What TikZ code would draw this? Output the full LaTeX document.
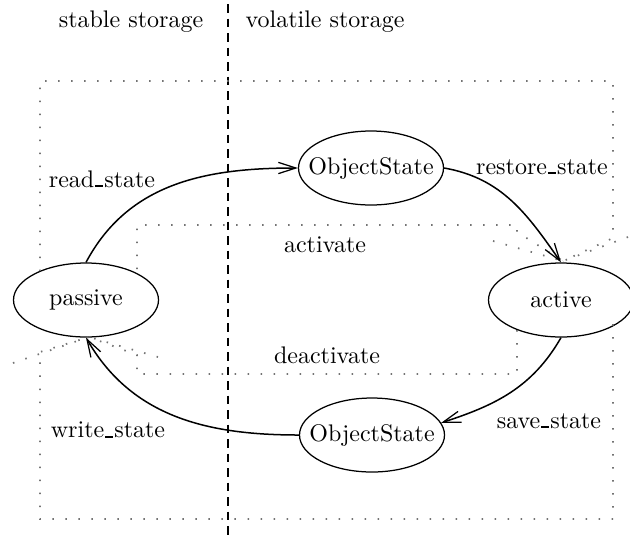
\documentclass[tikz,border=0pt]{standalone}
\usetikzlibrary{shapes.geometric,arrows.meta}
% short, heavy underscore as used in the method names
\newcommand{\uscore}{\kern0.3pt\rule{3.2pt}{0.75pt}\kern0.5pt}
\begin{document}
\begin{tikzpicture}[x=0.4pt,y=-0.4pt,
  font=\fontsize{9.6}{11}\selectfont,
  state/.style={ellipse, draw, line width=0.5pt, inner sep=0pt,
    minimum width=58pt, minimum height=29.6pt},
  lbl/.style={inner sep=0pt},
  trans/.style={line width=0.6pt, -{Straight Barb[length=7pt,width=4.5pt,line width=0.5pt]}},
  dots/.style={line width=0.7pt, black!55, dash pattern=on 0.6pt off 4.6pt},
  divider/.style={line width=0.6pt, dash pattern=on 3.4pt off 2.4pt}]
\useasboundingbox (0,0) rectangle (630,540);

% storage divider
\coordinate (divtop) at (228,4);
\coordinate (divbot) at (228,540);
\draw[divider] (divtop) -- (divbot);
\node[lbl] (stable) at (131,22) {stable storage};
\node[lbl] (volatile) at (325,22) {volatile storage};

% states
\node[state] (passive) at (86,300) {\makebox[0pt]{passive}};
\node[state] (active) at (561,300) {\makebox[0pt]{active}};
\node[state] (osA) at (371,168) {\makebox[0pt]{ObjectState}};
\node[state] (osB) at (372,435) {\makebox[0pt]{ObjectState}};

% dotted activate / deactivate paths
\coordinate (pasTopO) at (40,271);
\coordinate (pasTopI) at (137,269);
\coordinate (actTip) at (563,261);
\coordinate (pasTip) at (89,337);
\coordinate (actBotI) at (517,330);
\coordinate (actBotO) at (613,324);

\draw[dots] (pasTopO) -- (40,81) -- (613,81) -- (613,238) -- (actTip);
\draw[dots] (628,237) -- (actTip);
\draw[dots] (pasTopI) -- (137,225) -- (517,225) -- (517,232) -- (actTip);
\draw[dots] (493,241) -- (actTip);
\draw[dots] (actBotI) -- (517,374) -- (137,374) -- (137,355) -- (pasTip);
\draw[dots] (158,357) -- (pasTip);
\draw[dots] (actBotO) -- (613,519) -- (40,519) -- (40,352) -- (pasTip);
\draw[dots] (13,363) -- (pasTip);

\node[lbl] (activate) at (325,245) {activate};
\node[lbl] (deactivate) at (327,355) {deactivate};

% state transitions
\draw[trans] (passive.north) to[out=62,in=180] (osA.west);
\draw[trans] (osA.east) to[out=-10,in=125] (active.north);
\draw[trans] (active.south) to[out=-120,in=18] (osB.10);
\draw[trans] (osB.west) to[out=180,in=-60] (passive.south);

\node[lbl] (readst) at (102,179) {read\uscore state};
\node[lbl] (restorest) at (542,167) {restore\uscore state};
\node[lbl] (savest) at (549,421) {save\uscore state};
\node[lbl] (writest) at (108,430) {write\uscore state};
\end{tikzpicture}
\end{document}
